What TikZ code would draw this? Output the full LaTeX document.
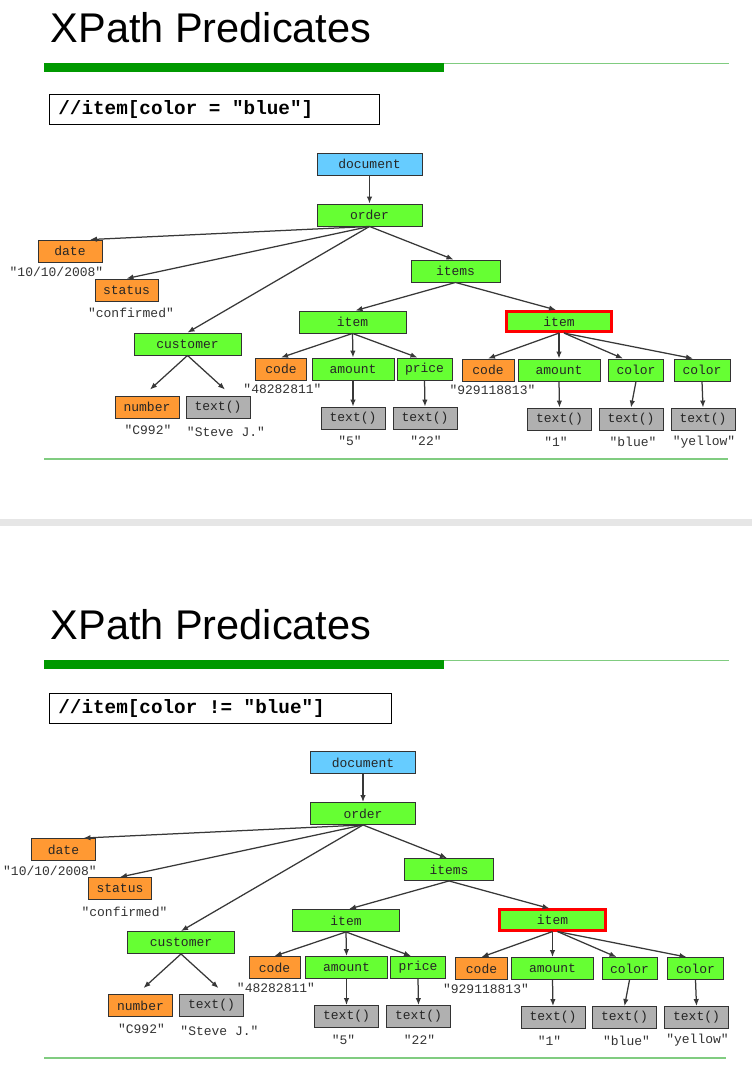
\documentclass[tikz,border=0pt]{standalone}
\usepackage{fontspec}
\setmainfont{Liberation Sans}
\newfontfamily\monofont[WordSpace={1,0,0}]{Liberation Mono}
\usetikzlibrary{arrows.meta}
\definecolor{docblue}{HTML}{66CCFF}
\definecolor{elgreen}{HTML}{66FF33}
\definecolor{attorange}{HTML}{FF9933}
\definecolor{txtgray}{HTML}{B0B0B0}
\definecolor{bardark}{HTML}{009900}
\definecolor{barlight}{HTML}{80CC80}
\definecolor{edgegray}{HTML}{383838}
\definecolor{sepgray}{HTML}{E6E6E6}
\definecolor{boxline}{HTML}{333333}
\newcommand\msp{\hspace*{0.6em}}
\tikzset{
  tn/.style={draw=boxline, line width=0.9pt, minimum height=22pt, inner sep=0pt,
    font=\monofont\fontsize{13}{13}\selectfont, text=black!85},
  el/.style={tn, fill=elgreen},
  docn/.style={tn, fill=docblue},
  att/.style={tn, fill=attorange},
  txn/.style={tn, fill=txtgray},
  hl/.style={tn, fill=elgreen, draw=red, line width=2.6pt, minimum height=20.5pt},
  val/.style={inner sep=0pt, font=\monofont\fontsize{13}{13}\selectfont, text=black!80},
  edge/.style={draw=edgegray, line width=1.25pt, -{Latex[length=7pt,width=5.5pt]}},
  titletext/.style={inner sep=0pt, anchor=base west, font=\fontsize{41.5}{41.5}\selectfont},
  qbox/.style={draw=black, line width=0.8pt, anchor=north west, minimum height=30pt,
    inner xsep=9pt, align=left, font=\monofont\bfseries\fontsize{19.3}{19.3}\selectfont},
}
\newcommand\xtree[1]{%
  \node[docn, minimum width=105pt] (#1doc) at (369.5,164) {document};
  \node[el, minimum width=105pt] (#1order) at (369.5,215) {order};
  \node[att, minimum width=64pt] (#1date) at (70,251) {date};
  \node[att, minimum width=63pt] (#1status) at (126.5,290) {status};
  \node[el, minimum width=107pt] (#1cust) at (187.5,344) {customer};
  \node[att, minimum width=64pt] (#1num) at (147,407) {number};
  \node[txn, minimum width=64pt] (#1ctext) at (218,407) {text()};
  \node[el, minimum width=89pt] (#1items) at (455.5,271) {items};
  \node[el, minimum width=107pt] (#1itemA) at (352.5,322) {item};
  \node[hl, minimum width=105.5pt] (#1itemB) at (559,321.5) {item};
  \node[att, minimum width=51pt] (#1codeA) at (281,369) {code};
  \node[el, minimum width=82pt] (#1amtA) at (353,369) {amount};
  \node[el, minimum width=55pt] (#1price) at (424.5,369) {price};
  \node[txn, minimum width=64pt] (#1tfive) at (353,418) {text()};
  \node[txn, minimum width=64pt] (#1ttwo) at (425,418) {text()};
  \node[att, minimum width=52pt] (#1codeB) at (488,370) {code};
  \node[el, minimum width=82pt] (#1amtB) at (559,370) {amount};
  \node[el, minimum width=55pt] (#1colA) at (636,370) {color};
  \node[el, minimum width=56pt] (#1colB) at (702,370) {color};
  \node[txn, minimum width=64pt] (#1tone) at (559.5,419) {text()};
  \node[txn, minimum width=64pt] (#1tblue) at (631,419) {text()};
  \node[txn, minimum width=64pt] (#1tyel) at (703,419) {text()};
  % values
  \node[val] (#1vdate) at (56.5,272) {"10/10/2008"};
  \node[val] (#1vstatus) at (131,313) {"confirmed"};
  \node[val] (#1vnum) at (148,430) {"C992"};
  \node[val] (#1vctext) at (226,432) {"Steve J."};
  \node[val] (#1vcodeA) at (282.5,389) {"48282811"};
  \node[val] (#1vfive) at (350,441) {"5"};
  \node[val] (#1vtwo) at (426,441) {"22"};
  \node[val] (#1vcodeB) at (492.5,390) {"929118813"};
  \node[val] (#1vone) at (556,442) {"1"};
  \node[val] (#1vblue) at (633,442) {"blue"};
  \node[val] (#1vyel) at (704,442) {"yellow"};
  % edges
  \draw[edge] (#1doc.south) -- (#1order.north);
  \draw[edge] (#1order.south) -- ([xshift=20pt]#1date.north);
  \draw[edge] (#1order.south) -- (#1status.north);
  \draw[edge] (#1order.south) -- (#1cust.north);
  \draw[edge] (#1order.south) -- ([xshift=-2pt]#1items.north);
  \draw[edge] (#1cust.south) -- ([xshift=3pt,yshift=6pt]#1num.north);
  \draw[edge] (#1cust.south) -- ([xshift=7pt,yshift=6pt]#1ctext.north);
  \draw[edge] (#1items.south) -- ([xshift=3pt]#1itemA.north);
  \draw[edge] (#1items.south) -- ([xshift=-3pt]#1itemB.north);
  \draw[edge] (#1itemA.south) -- (#1codeA.north);
  \draw[edge] (#1itemA.south) -- (#1amtA.north);
  \draw[edge] (#1itemA.south) -- ([xshift=-7pt]#1price.north);
  \draw[edge] (#1amtA.south) -- (#1tfive.north);
  \draw[edge] (#1price.south) -- (#1ttwo.north);
  \draw[edge] (#1itemB.south) -- (#1codeB.north);
  \draw[edge] (#1itemB.south) -- (#1amtB.north);
  \draw[edge] ([xshift=5pt]#1itemB.south) -- ([xshift=-13pt]#1colA.north);
  \draw[edge] ([xshift=5pt]#1itemB.south) -- ([xshift=-9pt]#1colB.north);
  \draw[edge] (#1amtB.south) -- (#1tone.north);
  \draw[edge] (#1colA.south) -- (#1tblue.north);
  \draw[edge] (#1colB.south) -- (#1tyel.north);
}
\begin{document}
\begin{tikzpicture}[x=1pt,y=-1pt]
  \useasboundingbox[fill=white] (0,0) rectangle (752,1076);
  % separator band
  \fill[sepgray] (0,519) rectangle (752,526);
  % ---------- top panel ----------
  \node[titletext] (titleA) at (50.5,42.5) {XPath Predicates};
  \fill[bardark] (44,63) rectangle (444,71.5);
  \draw[barlight, line width=1.6pt] (444,63.5) -- (729,63.5);
  \node[qbox, minimum width=330pt, text width=312pt] (queryA) at (49,94) {//item[color\msp=\msp"blue"]};
  \xtree{a}
  \draw[barlight, line width=1.6pt] (44,459) -- (728,459);
  % ---------- bottom panel ----------
  \node[titletext] (titleB) at (50.5,639.5) {XPath Predicates};
  \fill[bardark] (44,660) rectangle (444,668.5);
  \draw[barlight, line width=1.6pt] (444,660.5) -- (729,660.5);
  \node[qbox, minimum width=342pt, text width=324pt] (queryB) at (49,693) {//item[color\msp!=\msp"blue"]};
  \begin{scope}[shift={(-6.5,598.5)}]
    \xtree{b}
  \end{scope}
  \draw[barlight, line width=1.6pt] (44,1058) -- (726,1058);
\end{tikzpicture}
\end{document}
